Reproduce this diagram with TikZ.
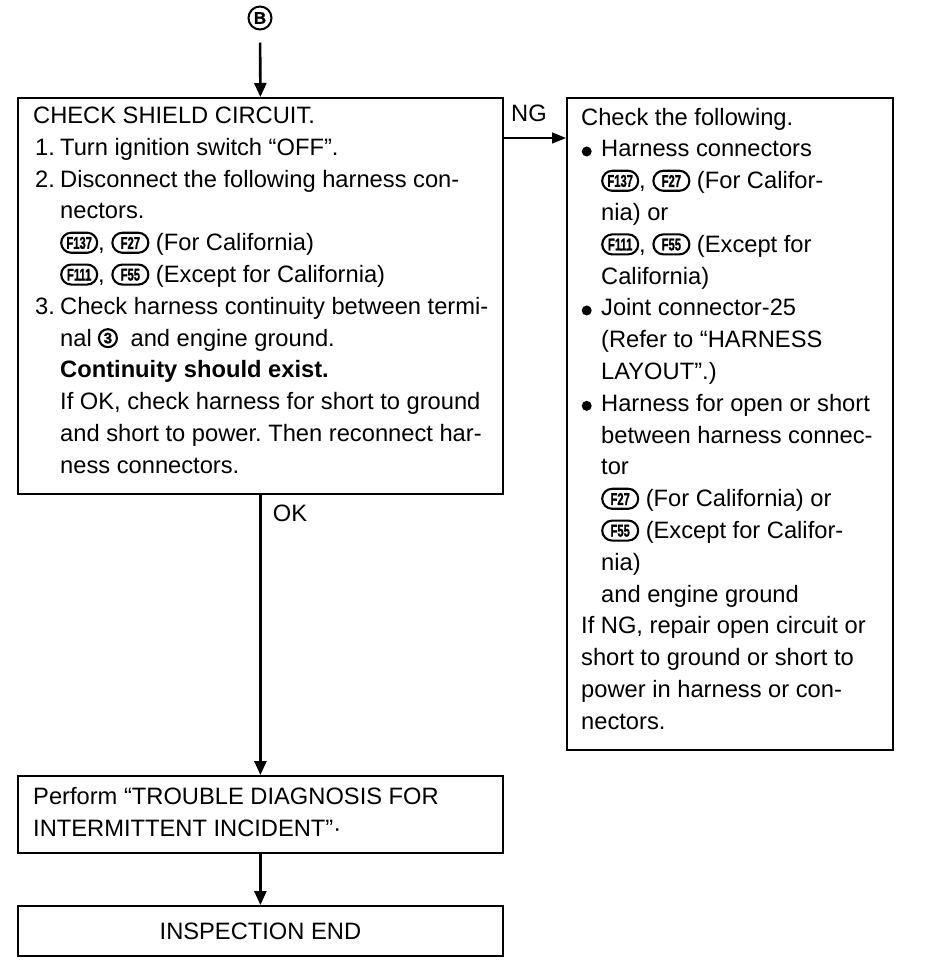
\documentclass[tikz,border=0pt]{standalone}
\usepackage{fontspec}
\setmainfont{Liberation Sans}
\newfontfamily\connfont[BoldFeatures={FakeBold=1.5}]{Liberation Sans}
\usepackage{pict2e}
\usetikzlibrary{arrows.meta}
\frenchspacing

% connector symbol (oval with condensed bold label)
\newcommand\conn[1]{\begin{picture}(38,0)\linethickness{2.1pt}\put(19,8){\oval(36,20)}\put(19,7.8){\makebox(0,0){\connfont\fontsize{17}{17}\selectfont\bfseries\scalebox{0.66}[1]{#1}}}\end{picture}}
% circled terminal number
\newcommand\cnum[1]{\begin{picture}(19,0)\linethickness{2.1pt}\put(9.5,8){\circle{18}}\put(9.5,8){\makebox(0,0){\connfont\fontsize{15}{15}\selectfont\bfseries #1}}\end{picture}}
% bullet
\newcommand\bul{\begin{picture}(20,0)\put(5.5,5.5){\circle*{10}}\end{picture}}

\begin{document}
\begin{tikzpicture}[x=1pt,y=-1pt,
  font=\fontsize{23.7}{31.8}\selectfont,
  box/.style={draw, line width=1.8pt, inner sep=0pt, anchor=north west},
  txt/.style={align=left, inner sep=0pt, anchor=north west},
  lbl/.style={inner sep=0pt},
  flow/.style={line width=2.6pt, -{Triangle[length=14pt,width=12pt]}},
  ngarrow/.style={line width=1.1pt, -{Triangle[length=14pt,width=11pt]}}]
\useasboundingbox (0,0) rectangle (928,970);

% start marker
\node[draw, circle, line width=2pt, minimum size=23pt, inner sep=0pt,
      font=\connfont\fontsize{17}{17}\selectfont\bfseries] (B) at (260,18) {B};

% boxes
\node[box, minimum width=485pt, minimum height=396pt] (b1) at (17,97) {};
\node[box, minimum width=326pt, minimum height=652pt] (b2) at (566,97) {};
\node[box, minimum width=485pt, minimum height=77pt] (b3) at (17,775) {};
\node[box, minimum width=485pt, minimum height=50pt] (b4) at (17,905) {};

% box 1 text
\node[txt] (t1) at (33,106.8) {%
CHECK SHIELD CIRCUIT.\\
\makebox[27pt][l]{\hspace{2pt}1.}Turn ignition switch “OFF”.\\
\makebox[27pt][l]{\hspace{2pt}2.}Disconnect the following harness con-\\
\hspace*{27pt}nectors.\\
\hspace*{27pt}\conn{F137}, \conn{F27} (For California)\\
\hspace*{27pt}\conn{F111}, \conn{F55} (Except for California)\\
\makebox[27pt][l]{\hspace{2pt}3.}Check harness continuity between termi-\\
\hspace*{27pt}nal \cnum{3}\ \ and engine ground.\\
\hspace*{27pt}\textbf{Continuity should exist.}\\
\hspace*{27pt}If OK, check harness for short to ground\\
\hspace*{27pt}and short to power. Then reconnect har-\\
\hspace*{27pt}ness connectors.};

% box 2 text
\node[txt] (t2) at (581,107.8) {%
Check the following.\\
\bul Harness connectors\\
\hspace*{20pt}\conn{F137}, \conn{F27} (For Califor-\\
\hspace*{20pt}nia) or\\
\hspace*{20pt}\conn{F111}, \conn{F55} (Except for\\
\hspace*{20pt}California)\\
\bul Joint connector-25\\
\hspace*{20pt}(Refer to “HARNESS\\
\hspace*{20pt}LAYOUT”.)\\
\bul Harness for open or short\\
\hspace*{20pt}between harness connec-\\
\hspace*{20pt}tor\\
\hspace*{20pt}\conn{F27} (For California) or\\
\hspace*{20pt}\conn{F55} (Except for Califor-\\
\hspace*{20pt}nia)\\
\hspace*{20pt}and engine ground\\
If NG, repair open circuit or\\
short to ground or short to\\
power in harness or con-\\
nectors.};

% box 3 and 4 text
\node[txt] (t3) at (33,787) {%
Perform “TROUBLE DIAGNOSIS FOR\\
INTERMITTENT INCIDENT”·};
\node[inner sep=0pt] (t4) at (b4.center) {INSPECTION END};

% connectors
\draw[flow, shorten <=12pt] (B) -- (b1.north);
\draw[ngarrow] ([yshift=-41pt]b1.north east) -- ([yshift=-41pt]b2.north west);
\draw[flow] (b1.south) -- (b3.north);
\draw[flow] (b3.south) -- (b4.north);

% labels
\node[lbl] (ng) at (529,113) {NG};
\node[lbl] (ok) at (290,513) {OK};
\end{tikzpicture}
\end{document}
